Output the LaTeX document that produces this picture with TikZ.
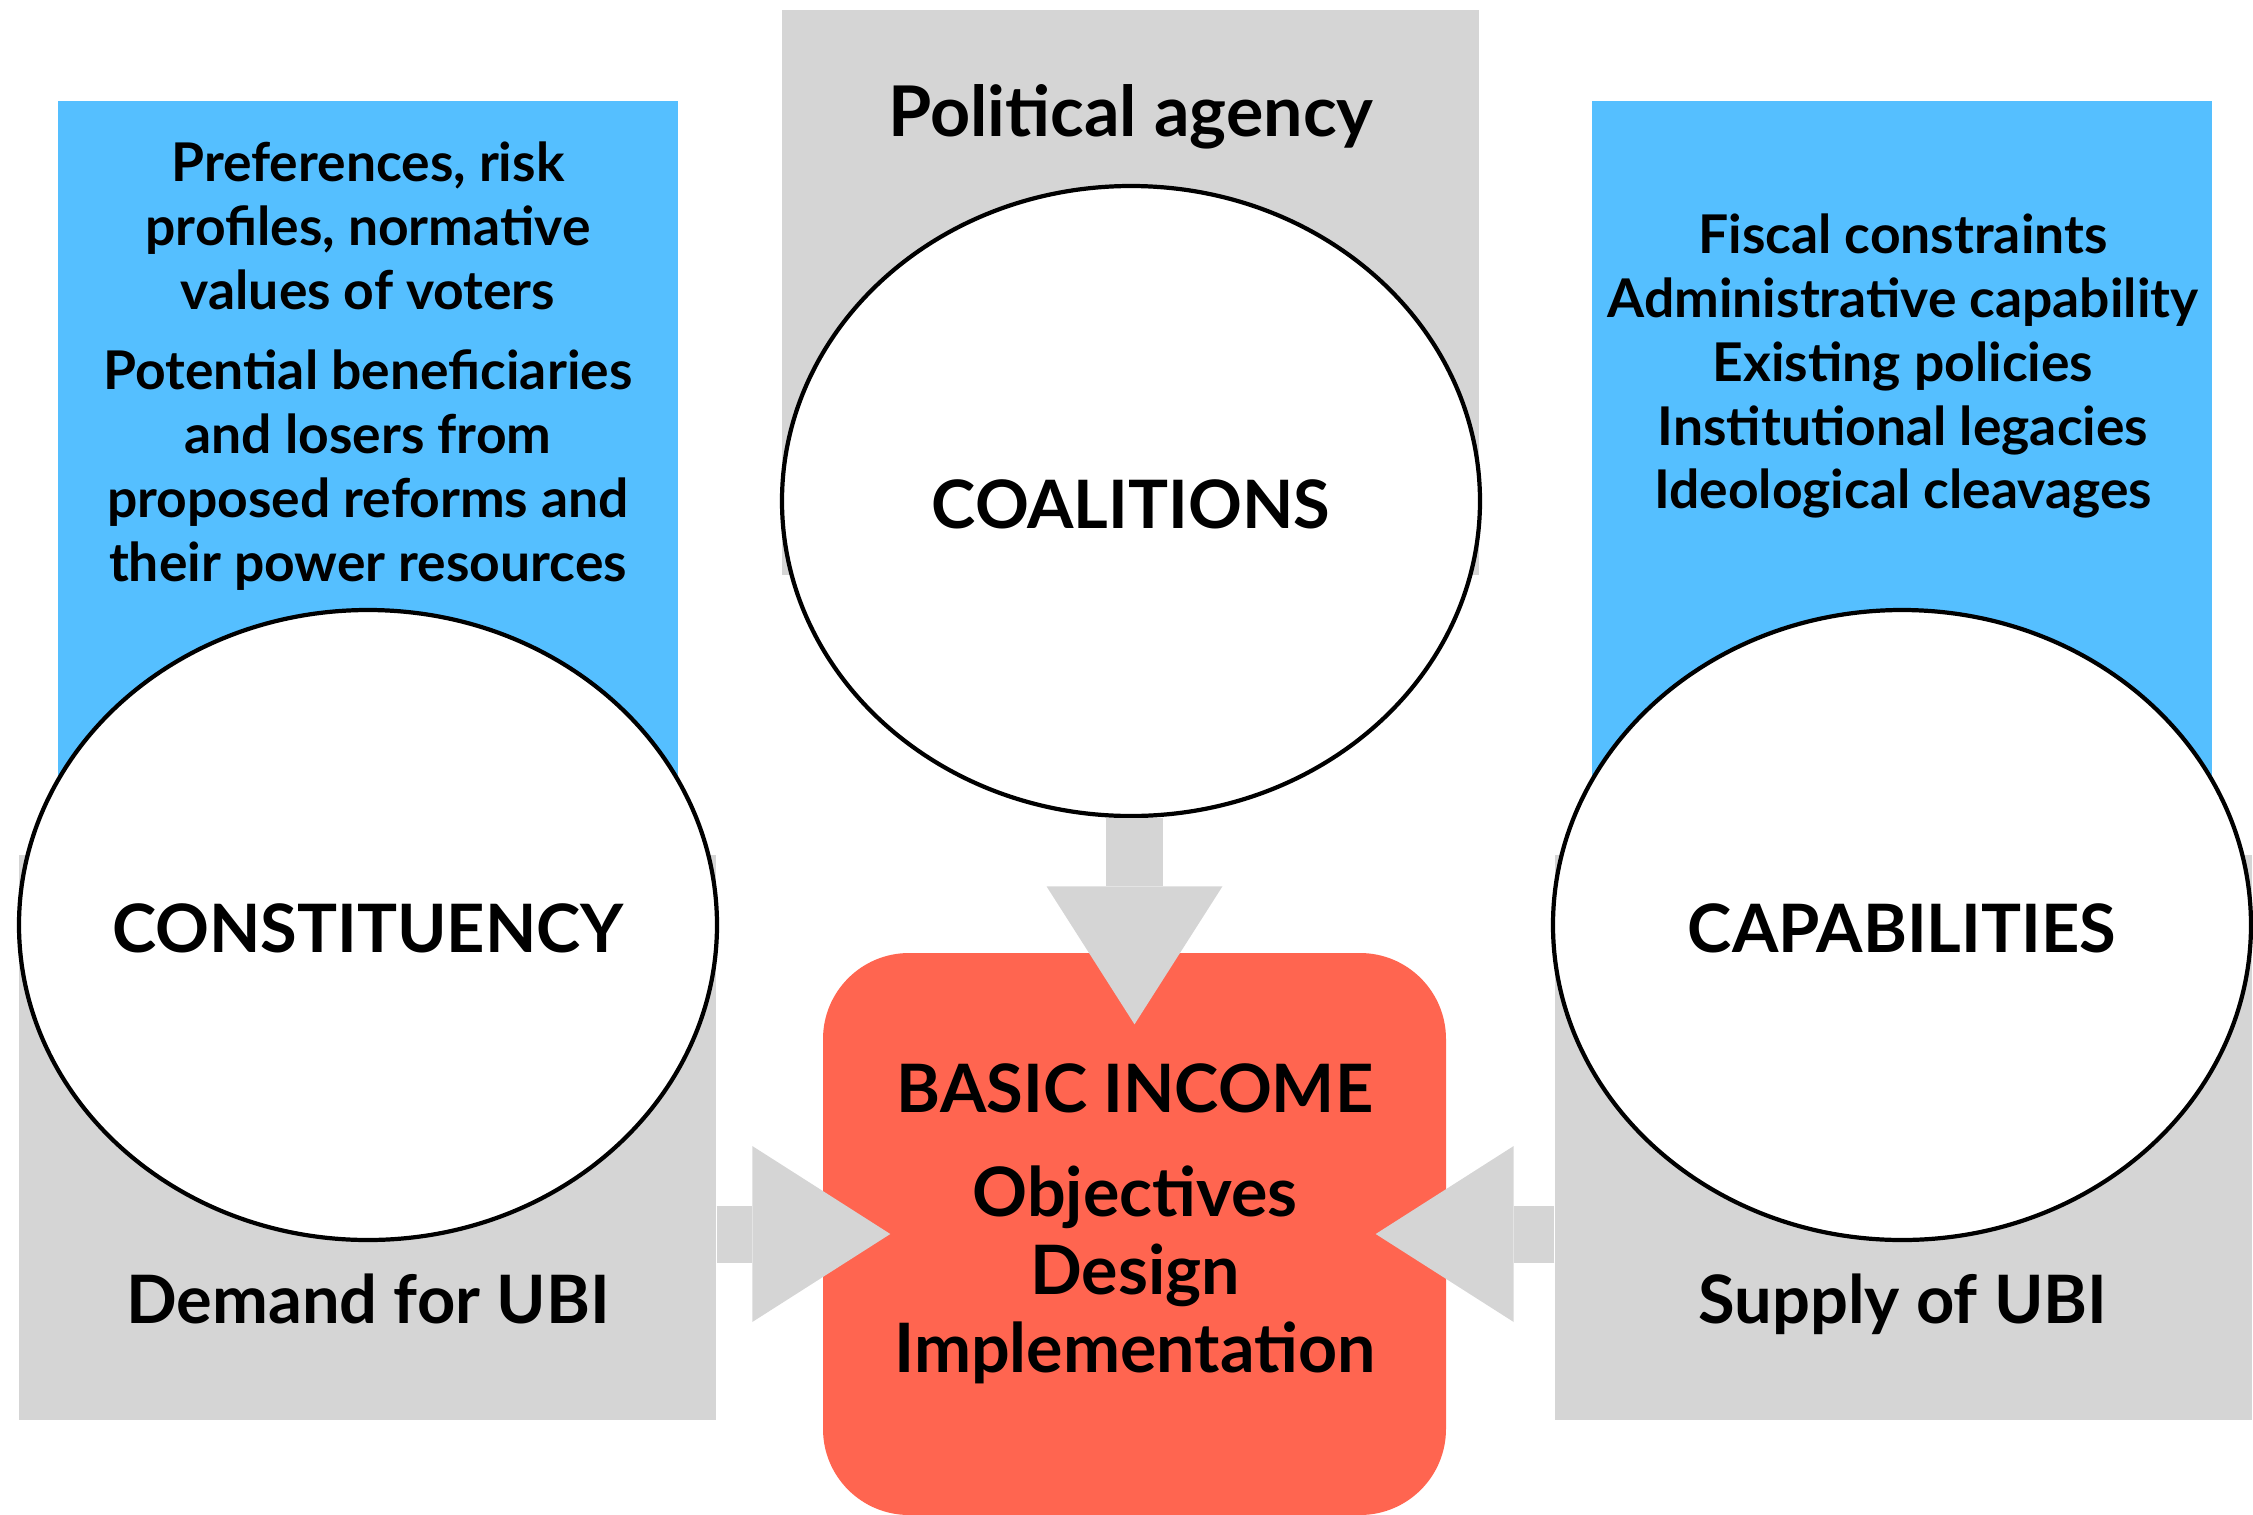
\documentclass[tikz,border=0pt]{standalone}
\usepackage{fontspec}
\setmainfont{Lato}
\usetikzlibrary{calc}
\usetikzlibrary{arrows.meta}
\usetikzlibrary{shapes.geometric}
\definecolor{skyblue}{RGB}{85,191,255}
\definecolor{panelgrey}{RGB}{213,213,213}
\definecolor{coralred}{RGB}{255,101,80}
\tikzset{
    infobox/.style = {
        fill=skyblue,
        inner sep=0pt,
        minimum width=6.2cm,
        minimum height=7.5cm,
    },
    greybox/.style = {
        fill=panelgrey,
        inner sep=0pt,
        minimum width=6.97cm,
        minimum height=5.65cm,
    },
    bubble/.style = {
        ellipse,
        draw=black,
        very thick,
        fill=white,
        inner sep=0pt,
        minimum width=6.98cm,
        minimum height=6.3cm,
    },
    corebox/.style = {
        fill=coralred,
        rounded corners=0.86cm,
        inner sep=0pt,
        minimum width=6.23cm,
        minimum height=5.62cm,
    },
    bigarrow/.style = {
        panelgrey,
        line width=0.57cm,
        -{Triangle[width=1.76cm, length=1.38cm, line width=0pt]},
    },
    smalltext/.style = {
        align=center,
        inner sep=0pt,
        font=\fontsize{15.2}{18.2}\selectfont\bfseries,
    },
    headtext/.style = {
        inner sep=0pt,
        font=\fontsize{19}{22}\selectfont\bfseries,
    },
    coretext/.style = {
        align=center,
        inner sep=0pt,
        font=\fontsize{19.4}{22.1}\selectfont\bfseries,
    }
}

\begin{document}
\begin{tikzpicture}[x=1cm, y=-1cm]
  \useasboundingbox (0, 0) rectangle (22.53, 15.15);

  % Draw all panels
  \node[infobox] (votersbg) at (3.675, 4.755) {};
  \node[infobox] (limitsbg) at (19.015, 4.755) {};
  \node[greybox] (demandbg) at (3.675, 11.375) {};
  \node[greybox] (supplybg) at (19.035, 11.375) {};
  \node[greybox] (agencybg) at (11.305, 2.925) {};

  \node[corebox] (basic) at (11.345, 12.34) {};

  \node[bubble] (constituency) at (3.68, 9.25) {};
  \node[bubble] (coalitions) at (11.31, 5.01) {};
  \node[bubble] (capabilities) at (19.02, 9.25) {};

  % Arrows into the basic income box
  \draw[bigarrow] (demandbg.east |- basic.west) -- ($(basic.west)+(0.68, 0)$);
  \draw[bigarrow] (supplybg.west |- basic.east) -- ($(basic.east)+(-0.71, 0)$);
  \draw[bigarrow] (coalitions.south -| basic.north) -- ($(basic.north)+(0, 0.72)$);

  % Texts
  \node[headtext, yshift=-1pt] (constituencylabel) at (constituency) {CONSTITUENCY};
  \node[headtext, yshift=-1pt] (coalitionslabel) at (coalitions) {COALITIONS};
  \node[headtext, yshift=-1pt] (capabilitieslabel) at (capabilities) {CAPABILITIES};

  \node[smalltext] (prefs) at (3.68, 2.26) {Preferences, risk\\profiles, normative\\values of voters};
  \node[smalltext] (winners) at (3.68, 4.705) {Potential beneficiaries\\and losers from\\proposed reforms and\\their power resources};
  \node[smalltext] (limits) at (19.03, 3.66) {Fiscal constraints\\Administrative capability\\Existing policies\\Institutional legacies\\Ideological cleavages};

  \node[headtext, font=\fontsize{19.9}{22}\selectfont\bfseries, anchor=base] (agency) at (11.31, 1.36) {Political agency};
  \node[headtext, anchor=base] (demand) at (3.68, 13.23) {Demand for UBI};
  \node[headtext, anchor=base] (supply) at (19.03, 13.23) {Supply of UBI};

  \node[headtext] (basictitle) at (11.35, 10.88) {BASIC INCOME};
  \node[coretext] (steps) at (11.35, 12.75) {Objectives\\Design\\Implementation};
\end{tikzpicture}
\end{document}
